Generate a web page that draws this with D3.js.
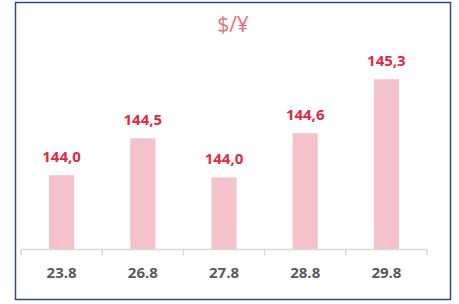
<!DOCTYPE html>
<html><head><meta charset="utf-8">
<script src="https://cdn.jsdelivr.net/npm/d3@7"></script>
<style>body{margin:0;background:#fff}</style></head>
<body><svg id="c" width="459" height="304"></svg>
<script>
const categories = ["23.8","26.8","27.8","28.8","29.8"];
const values = [144.0, 144.5, 143.97, 144.57, 145.3];
const title = "$/¥";

const svg = d3.select("#c");
svg.append("rect").attr("x",15.5).attr("y",2.5).attr("width",435).attr("height",297)
  .attr("fill","#fff").attr("stroke","#2f4a80").attr("stroke-width",1.5);

const x = d3.scaleBand().domain(categories).range([21,427]).paddingInner(0.69).paddingOuter(0.345);
const y = d3.scaleLinear().domain([143.0,146.0]).range([249,27.6]);

svg.append("text").attr("x",233).attr("y",32).attr("text-anchor","middle")
  .attr("font-family","Open Sans, sans-serif").attr("font-size",21).attr("fill","#e9717f").text(title);

svg.selectAll("rect.bar").data(values).join("rect").attr("class","bar")
  .attr("x",(d,i)=>x(categories[i])).attr("width",x.bandwidth())
  .attr("y",d=>y(d)).attr("height",d=>y.range()[0]-y(d)).attr("fill","#f4c2ca");

svg.selectAll("text.lbl").data(values).join("text").attr("class","lbl")
  .attr("x",(d,i)=>x(categories[i])+x.bandwidth()/2).attr("y",d=>y(d)-13)
  .attr("text-anchor","middle").attr("font-family","Open Sans, sans-serif").attr("font-weight","bold")
  .attr("font-size",15).attr("fill","#df2a44").text(d=>d3.format(".1f")(d).replace(".",","));

const axis = d3.axisBottom(x).tickSize(0).tickPadding(0);
const g = svg.append("g").attr("transform","translate(0,249.5)");
g.append("line").attr("x1",21).attr("x2",427).attr("stroke","#d9d9d9").attr("stroke-width",1.5);
const bounds = categories.map((c,i)=>21+i*(406/5)).concat([427]);
g.selectAll("line.tk").data(bounds).join("line").attr("class","tk")
  .attr("x1",d=>d).attr("x2",d=>d).attr("y1",0).attr("y2",6).attr("stroke","#d9d9d9").attr("stroke-width",1.5);
const ga = svg.append("g").attr("transform","translate(0,249.5)").call(axis);
ga.select(".domain").remove();
ga.selectAll("text").attr("y",28).attr("dy",0).attr("font-family","Open Sans, sans-serif")
  .attr("font-weight","bold").attr("font-size",15).attr("fill","#595959");
</script></body></html>
